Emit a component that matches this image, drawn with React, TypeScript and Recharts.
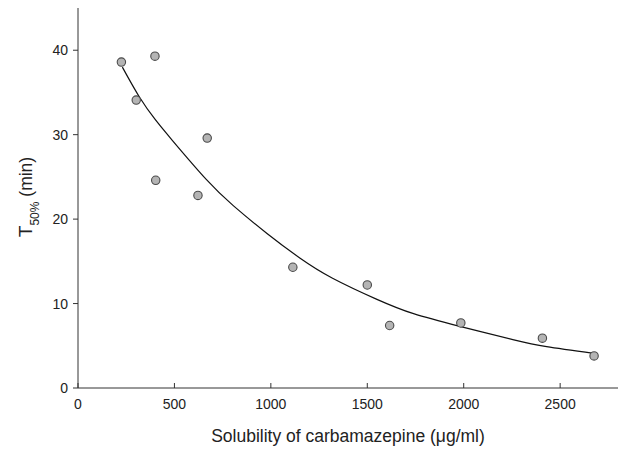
import React from "react";
import { ComposedChart, Scatter, Line, XAxis, YAxis } from "recharts";

const xTicks = [0, 500, 1000, 1500, 2000, 2500];
const yTicks = [0, 10, 20, 30, 40];

const measuredSolubility = [225, 302, 399, 403, 622, 670, 1114, 1500, 1616, 1985, 2408, 2676];
const measuredT50 = [38.6, 34.1, 39.3, 24.6, 22.8, 29.6, 14.3, 12.2, 7.4, 7.7, 5.9, 3.8];

const curveSolubility = [230, 320, 400, 490, 665, 805, 980, 1150, 1320, 1550, 1740, 1980, 2260, 2430, 2675];
const curveT50 = [38.0, 34.4, 31.8, 29.3, 24.7, 21.6, 18.3, 15.4, 13.0, 10.5, 8.8, 7.3, 5.7, 4.9, 4.1];

const points = measuredSolubility.map((x, i) => ({ x, y: measuredT50[i] }));
const curve = curveSolubility.map((x, i) => ({ x, y: curveT50[i] }));

const FONT = "'Liberation Sans', Arial, sans-serif";

const Dot = (props: any) => {
  const { cx, cy } = props;
  return <circle cx={cx} cy={cy} r={4.2} fill="#b4b4b4" stroke="#4a4a4a" strokeWidth={1.1} />;
};

export default function App() {
  return (
    <div style={{ position: "absolute", left: 0, top: 0, width: 623, height: 450, background: "#fff" }}>
      <ComposedChart
        width={623}
        height={450}
        margin={{ top: 8, right: 5, bottom: 32, left: 0 }}
        style={{ fontFamily: FONT }}
      >
        <XAxis
          dataKey="x"
          type="number"
          domain={[0, 2800]}
          ticks={xTicks}
          allowDataOverflow
          height={30}
          tickSize={-5}
          tickMargin={16}
          stroke="#333"
          tick={{ fill: "#222", fontSize: 14, fontFamily: FONT }}
          label={{
            content: () => (
              <text x={348} y={442} textAnchor="middle" fontSize={17.5} fill="#222" fontFamily={FONT}>
                Solubility of carbamazepine (μg/ml)
              </text>
            ),
          }}
        />
        <YAxis
          dataKey="y"
          type="number"
          domain={[0, 45]}
          ticks={yTicks}
          allowDataOverflow
          width={78}
          tickSize={5}
          tickMargin={5}
          stroke="#333"
          tick={{ fill: "#222", fontSize: 14, fontFamily: FONT }}
          label={{
            content: () => (
              <text
                x={0}
                y={0}
                transform="translate(32,197) rotate(-90)"
                textAnchor="middle"
                fill="#222"
                fontFamily={FONT}
              >
                <tspan fontSize={19}>T</tspan>
                <tspan fontSize={12} dy={7}>50%</tspan>
                <tspan fontSize={17.5} dy={-7}> (min)</tspan>
              </text>
            ),
          }}
        />
        <Line
          data={curve}
          dataKey="y"
          type="natural"
          stroke="#111"
          strokeWidth={1.2}
          dot={false}
          activeDot={false}
          isAnimationActive={false}
        />
        <Scatter data={points} dataKey="y" shape={<Dot />} isAnimationActive={false} />
      </ComposedChart>
    </div>
  );
}
